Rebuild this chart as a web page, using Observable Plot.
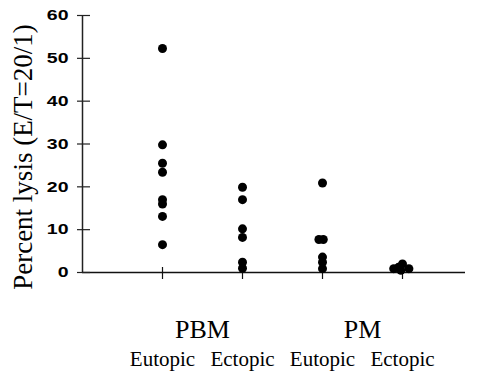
<!DOCTYPE html>
<html><head><meta charset="utf-8">
<script src="https://cdn.jsdelivr.net/npm/d3@7"></script>
<script src="https://cdn.jsdelivr.net/npm/@observablehq/plot@0.6"></script>
<style>body{margin:0;background:#fff}</style>
</head><body><div id="chart"></div>
<script>
// Categories
const groups = ["PBM", "PM"];
const sites = ["Eutopic", "Ectopic", "Eutopic", "Ectopic"];
// Series values (percent lysis)
const pbmEutopic = [52.3, 29.8, 25.5, 23.4, 17.0, 16.0, 13.1, 6.5];
const pbmEctopic = [19.9, 17.0, 10.2, 8.2, 2.4, 1.0];
const pmEutopic  = [20.9, 7.7, 7.7, 3.6, 2.4, 0.9];
const pmEctopic  = [2.0, 1.2, 0.9, 0.9, 0.5];
// Horizontal scatter of overlapping points (category units)
const pbmEutopicJitter = [0, 0, 0, 0, 0, 0, 0, 0];
const pbmEctopicJitter = [0, 0, 0, 0, 0, 0];
const pmEutopicJitter  = [0, -0.045, 0.01, 0, 0, 0];
const pmEctopicJitter  = [0, -0.05, -0.11, 0.08, -0.02];
// Tick labels
const yTicks = [0, 10, 20, 30, 40, 50, 60];
const yLabel = "Percent lysis (E/T=20/1)";

const series = [pbmEutopic, pbmEctopic, pmEutopic, pmEctopic];
const jitters = [pbmEutopicJitter, pbmEctopicJitter, pmEutopicJitter, pmEctopicJitter];
const data = series.flatMap((vals, i) => vals.map((v, j) => ({pos: i + 1 + jitters[i][j], value: v})));
const siteIdx = sites.map((s, i) => i + 1);
const groupPos = groups.map((g, i) => ({name: g, pos: 1.5 + 2 * i}));

const chart = Plot.plot({
  width: 480, height: 371,
  marginTop: 15, marginBottom: 99, marginLeft: 82, marginRight: 15,
  x: {type: "linear", domain: [0, 4.7875], axis: null},
  y: {domain: [0, 60], axis: null},
  style: {fontFamily: "Liberation Sans", color: "#000", background: "#fff"},
  marks: [
    Plot.ruleX([0], {stroke: "#222", strokeWidth: 1.5}),
    Plot.ruleY([0], {stroke: "#111", strokeWidth: 1.6}),
    Plot.axisY(yTicks, {tickSize: 13, dx: 8, fill: "none", label: null, stroke: "#222", strokeWidth: 1.2}),
    Plot.axisY(yTicks, {tickSize: 0, tickPadding: 14, label: null, fontWeight: "bold", fontSize: 15, fontFamily: "Liberation Sans"}),
    Plot.axisX(siteIdx, {tickSize: 12, dy: -5, fill: "none", label: null, stroke: "#111", strokeWidth: 1.2}),
    Plot.dot(data, {x: "pos", y: "value", r: 4.5, fill: "#000"}),
    Plot.text([yLabel], {frameAnchor: "left", rotate: -90, dx: -59, dy: 13, fontFamily: "Liberation Serif", fontSize: 27, textAnchor: "middle", lineAnchor: "middle"}),
    Plot.text(groupPos, {x: "pos", text: "name", frameAnchor: "bottom", dy: 65, lineAnchor: "bottom", fontFamily: "Liberation Serif", fontSize: 26}),
    Plot.text(siteIdx, {x: d => d, text: d => sites[d - 1], frameAnchor: "bottom", dy: 93, lineAnchor: "bottom", fontFamily: "Liberation Serif", fontSize: 21})
  ]
});
document.getElementById("chart").appendChild(chart);
// widen the bold tick numerals as in the original print
const tickStrings = yTicks.map(String);
d3.select(chart).selectAll("text").each(function() {
  if (this.children.length === 0 && tickStrings.includes(this.textContent.trim())) {
    const t = this.getAttribute("transform");
    if (t) {
      this.setAttribute("transform", t + " scale(1.3,1)");
    } else {
      const x = +this.getAttribute("x") || 0, y = +this.getAttribute("y") || 0;
      this.setAttribute("x", 0); this.setAttribute("y", 0);
      this.setAttribute("transform", `translate(${x},${y}) scale(1.3,1)`);
    }
  }
});
</script>
</body></html>
